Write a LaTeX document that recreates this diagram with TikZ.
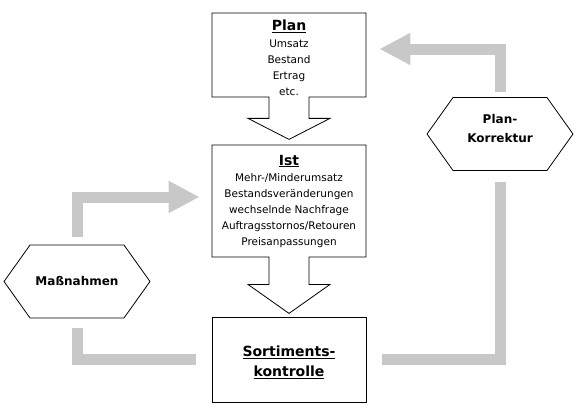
\documentclass[tikz,border=0pt]{standalone}
\usepackage{fontspec}
\setmainfont{DejaVu Sans}
\usetikzlibrary{arrows.meta,shapes.arrows,shapes.symbols}
\definecolor{flowgray}{RGB}{200,200,200}

\begin{document}
\begin{tikzpicture}[x=1pt, y=-1pt,
    callbox/.style={arrow box, draw, line width=0.8pt, fill=white, minimum width=154pt,
        align=center, inner sep=0pt, font=\fontsize{10.5}{16}\selectfont,
        arrow box shaft width=40pt, arrow box head extend=21pt},
    endbox/.style={rectangle, draw, line width=0.8pt, minimum width=154pt, minimum height=85pt,
        align=center, font=\fontsize{14}{20}\selectfont\bfseries},
    hexbox/.style={signal, signal to=west and east, signal pointer angle=109, draw, line width=0.8pt,
        minimum width=146pt, minimum height=73pt, align=center,
        font=\fontsize{12}{19}\selectfont\bfseries},
    feedback/.style={draw=flowgray, line width=11pt},
    feedtip/.style={-{Triangle[width=30pt, length=31pt]}}
]
    \useasboundingbox (0,0) rectangle (578,415);

    % Plan, Ist and Sortimentskontrolle
    \node[callbox, minimum height=84pt, arrow box arrows={south:42pt}, arrow box tip angle=125.7]
        (plan) at (289,55) {\rule{0pt}{17pt}\underline{\fontsize{14}{16}\selectfont\bfseries Plan}\\[1pt]
        Umsatz\\ Bestand\\ Ertrag\\ etc.};
    \node[callbox, minimum height=112pt, arrow box arrows={south:56pt}, arrow box tip angle=109.5]
        (ist) at (289,201) {\underline{\fontsize{14}{16}\selectfont\bfseries Ist}\\
        Mehr-/Minderumsatz\\ Bestandsveränderungen\\ wechselnde Nachfrage\\
        Auftragsstornos/Retouren\\ Preisanpassungen};
    \node[endbox] (sort) at (289,359.5) {\rule{0pt}{16.5pt}\underline{Sortiments-}\\ \underline{kontrolle}};

    % Maßnahmen and Plan-Korrektur
    \node[hexbox] (mass) at (77,281.5) {Maßnahmen};
    \node[hexbox, text depth=11pt] (korr) at (500,134) {Plan-\\ Korrektur};

    % Feedback loops
    \draw[feedback, feedtip] ([yshift=8pt]mass.north) |- ([xshift=-12pt, yshift=4pt]ist.west);
    \draw[feedback] ([xshift=-16pt]sort.west) -| ([yshift=-10pt]mass.south);
    \draw[feedback] ([xshift=16pt]sort.east) -| ([yshift=-11pt]korr.south);
    \draw[feedback, feedtip] ([yshift=5pt]korr.north) |- ([xshift=13pt, yshift=6pt]plan.east);
\end{tikzpicture}
\end{document}
